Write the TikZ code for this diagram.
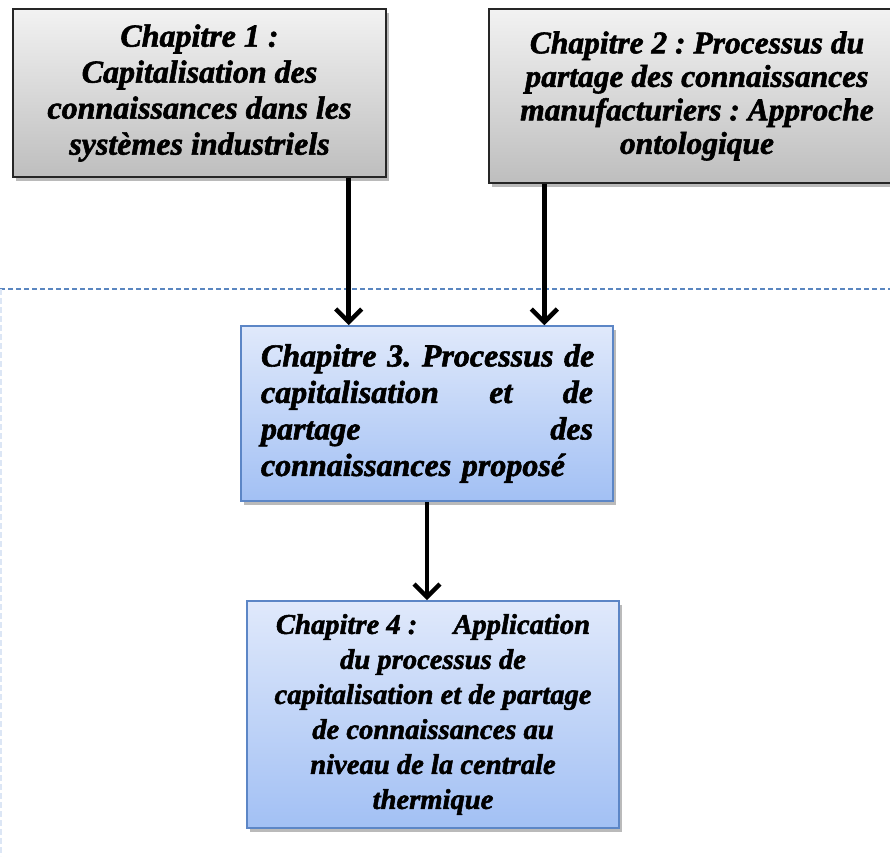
\documentclass[tikz,border=0pt]{standalone}
\usepackage{fontspec}
\setmainfont{Liberation Serif}
\newfontfamily\chapfont{Liberation Serif}[BoldItalicFeatures={FakeBold=1.8}]
\usetikzlibrary{arrows.meta,shadows,calc}
\definecolor{graytop}{HTML}{F2F2F2}
\definecolor{graybot}{HTML}{BEBEBE}
\definecolor{bluetop}{HTML}{E0E9FB}
\definecolor{bluebot}{HTML}{A2C0F4}
\definecolor{blueedge}{HTML}{5C86C6}
\definecolor{dashblue}{HTML}{5A86C0}
\definecolor{faintblue}{HTML}{DCE6F5}
\tikzset{
  chap/.style={inner sep=0pt,
    drop shadow={shadow xshift=3pt, shadow yshift=-4pt, opacity=0.45, fill=black!60}},
  graybox/.style={chap, draw=black!85, line width=1.4pt, top color=graytop, bottom color=graybot},
  bluebox/.style={chap, draw=blueedge, line width=1.6pt, top color=bluetop, bottom color=bluebot},
  flow/.style={line width=4.5pt, black, -{Straight Barb[length=13pt,width=26pt,line width=4.5pt]}},
}
\newcommand{\cfont}[2]{\fontsize{#1}{#2}\chapfont\bfseries\itshape\frenchspacing}
\newcommand{\jline}[1]{\leavevmode\hbox to 332pt{#1}}
\begin{document}
\begin{tikzpicture}[x=1pt,y=-1pt]
\useasboundingbox (0,0) rectangle (890,856);
\draw[dashblue, line width=1.3pt, dash pattern=on 5pt off 3pt] (0,289) coordinate (dl) -- (890,289) coordinate (dr);
\draw[faintblue, line width=1.5pt, dash pattern=on 6pt off 3pt] (1,289) coordinate (vl) -- (1,856) coordinate (vb);

\node[graybox, minimum width=373pt, minimum height=168pt, align=center, font=\cfont{32}{36}] (b1) at (199.5,93)
  {Chapitre 1 :\\Capitalisation des\\connaissances dans les\\systèmes industriels};
\node[graybox, minimum width=416pt, minimum height=174pt, align=center, font=\cfont{31.5}{33.5}] (b2) at (697,96)
  {Chapitre 2 : Processus du\\partage des connaissances\\manufacturiers : Approche\\ontologique};
\node[bluebox, minimum width=372pt, minimum height=175pt, text width=332pt, align=left, font=\cfont{32}{36.5}] (b3) at (427,413.5)
  {\jline{Chapitre 3. \hfil Processus \hfil de}\\\jline{capitalisation\hfil et\hfil de}\\\jline{partage\hfil des}\\connaissances proposé};
\node[bluebox, minimum width=372pt, minimum height=227pt, align=center, font=\cfont{28.6}{35}] (b4) at (433,714.5)
  {Chapitre 4 :\hspace{36pt}Application\\du processus de\\capitalisation et de partage\\de connaissances au\\niveau de la centrale\\thermique};

\draw[flow] ([xshift=-38pt]b1.south east) -- ([xshift=-38pt]b1.south east |- b3.north);
\draw[flow] ([xshift=56pt]b2.south west) -- ([xshift=56pt]b2.south west |- b3.north);
\draw[flow] (b3.south) -- (b3.south |- b4.north);
\end{tikzpicture}
\end{document}
